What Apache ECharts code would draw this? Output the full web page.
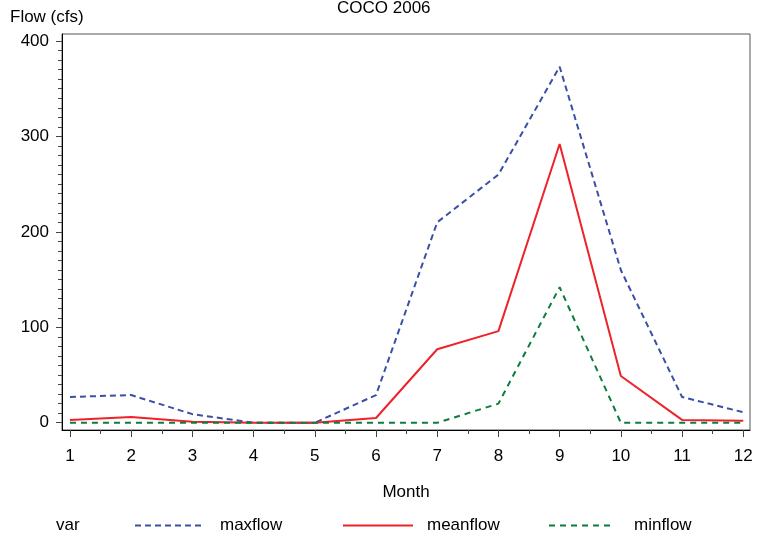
<!DOCTYPE html>
<html><head><meta charset="utf-8">
<script src="https://cdn.jsdelivr.net/npm/echarts@6/dist/echarts.min.js"></script>
<style>html,body{margin:0;padding:0;background:#fff}#c{width:764px;height:540px}</style>
</head><body><div id="c"></div>
<script>
const months = [1,2,3,4,5,6,7,8,9,10,11,12];
const maxflow = [27,29,9,0,0,29,210,260,373,160,27,11];
const meanflow = [3,6,1,0,0,5,77,96,292,49,3,2];
const minflow = [0,0,0,0,0,0,0,20,142,0,0,0];
const yTicks = [0,100,200,300,400];
const yMinor = []; for (let v = 0; v <= 400; v += 10) yMinor.push(v);
const xMinor = []; for (let v = 1; v <= 12; v += 0.5) xMinor.push(v);
const FONT = 'Liberation Sans';
const chart = echarts.init(document.getElementById('c'));
const pair = a => months.map((m,i)=>[m,a[i]]);
const XMIN = 0.87, XMAX = 12.11, YMIN = -7.6, YMAX = 407.3;
chart.setOption({
  animation:false,
  textStyle:{fontFamily:FONT},
  title:{text:'COCO 2006',left:332,top:-5,textStyle:{fontFamily:FONT,fontSize:17,fontWeight:'normal',color:'#000'}},
  grid:{left:62,top:34,width:688,height:396,show:true,borderColor:'#555',borderWidth:1,backgroundColor:'transparent'},
  xAxis:[
    {type:'value',min:XMIN,max:XMAX,position:'bottom',
     name:'Month',nameLocation:'middle',nameGap:54,nameTextStyle:{fontFamily:FONT,fontSize:17,color:'#000'},
     axisLine:{show:true,onZero:false,lineStyle:{color:'#000',width:1}},
     axisTick:{show:true,length:7,customValues:months,lineStyle:{color:'#444'}},
     axisLabel:{customValues:months,margin:18,fontFamily:FONT,fontSize:17,color:'#000'},
     splitLine:{show:false}},
    {type:'value',min:XMIN,max:XMAX,position:'bottom',
     axisLine:{show:false,onZero:false},
     axisTick:{show:true,length:4,customValues:xMinor,lineStyle:{color:'#444'}},
     axisLabel:{show:false},splitLine:{show:false}}
  ],
  yAxis:[
    {type:'value',min:YMIN,max:YMAX,position:'left',
     name:'Flow (cfs)',nameLocation:'end',nameGap:8,nameTextStyle:{fontFamily:FONT,fontSize:17,color:'#000',align:'left',padding:[0,0,0,-52]},
     axisLine:{show:true,onZero:false,lineStyle:{color:'#000',width:1}},
     axisTick:{show:true,length:6,customValues:yTicks,lineStyle:{color:'#444'}},
     axisLabel:{customValues:yTicks,margin:13,fontFamily:FONT,fontSize:17,color:'#000'},
     splitLine:{show:false}},
    {type:'value',min:YMIN,max:YMAX,position:'left',
     axisLine:{show:false,onZero:false},
     axisTick:{show:true,length:4,customValues:yMinor,lineStyle:{color:'#444'}},
     axisLabel:{show:false},splitLine:{show:false}}
  ],
  legend:[
    {data:['maxflow'],left:129,top:512,itemWidth:67,itemHeight:14,itemStyle:{opacity:0},textStyle:{fontFamily:FONT,fontSize:17,color:'#000',padding:[0,0,0,13]}},
    {data:['meanflow'],left:337,top:512,itemWidth:70,itemHeight:14,itemStyle:{opacity:0},textStyle:{fontFamily:FONT,fontSize:17,color:'#000',padding:[0,0,0,9]}},
    {data:['minflow'],left:543,top:512,itemWidth:66,itemHeight:14,itemStyle:{opacity:0},textStyle:{fontFamily:FONT,fontSize:17,color:'#000',padding:[0,0,0,14]}}
  ],
  graphic:[{type:'text',left:56,top:517,style:{text:'var',fontFamily:FONT,fontSize:17,fill:'#000'}}],
  series:[
    {name:'maxflow',type:'line',data:pair(maxflow),symbol:'none',lineStyle:{color:'#3a4fa6',width:2,type:[6,4]},itemStyle:{color:'#3a4fa6'}},
    {name:'meanflow',type:'line',data:pair(meanflow),symbol:'none',lineStyle:{color:'#ee2229',width:2,type:'solid'},itemStyle:{color:'#ee2229'}},
    {name:'minflow',type:'line',data:pair(minflow),symbol:'none',lineStyle:{color:'#0b7d3c',width:2,type:[6,5]},itemStyle:{color:'#0b7d3c'}}
  ]
});
</script></body></html>
